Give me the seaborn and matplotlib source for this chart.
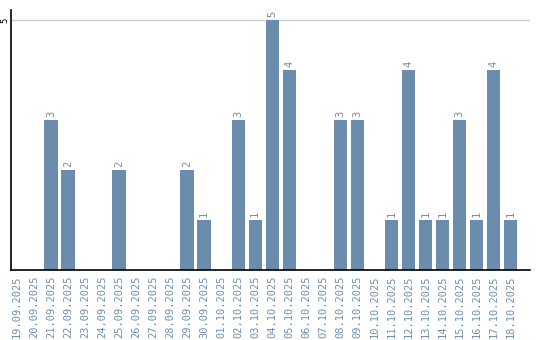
import matplotlib
matplotlib.use("Agg")
import matplotlib.pyplot as plt
import seaborn as sns
import pandas as pd

dates = ["19.09.2025", "20.09.2025", "21.09.2025", "22.09.2025", "23.09.2025",
         "24.09.2025", "25.09.2025", "26.09.2025", "27.09.2025", "28.09.2025",
         "29.09.2025", "30.09.2025", "01.10.2025", "02.10.2025", "03.10.2025",
         "04.10.2025", "05.10.2025", "06.10.2025", "07.10.2025", "08.10.2025",
         "09.10.2025", "10.10.2025", "11.10.2025", "12.10.2025", "13.10.2025",
         "14.10.2025", "15.10.2025", "16.10.2025", "17.10.2025", "18.10.2025"]
counts = [0, 0, 3, 2, 0, 0, 2, 0, 0, 0, 2, 1, 0, 3, 1, 5, 4, 0, 0, 3,
          3, 0, 1, 4, 1, 1, 3, 1, 4, 1]

df = pd.DataFrame({"date": dates, "count": counts})

sns.set_style("white")
plt.rcParams['font.family'] = ['DejaVu Sans Mono', 'DejaVu Sans']

fig = plt.figure(figsize=(5.4, 3.4), dpi=100)
ax = fig.add_axes([0.0204, 0.206, 0.961, 0.765])

bar_color = "#6b8cad"
label_color = "#6f8fb0"

sns.barplot(data=df, x="date", y="count", color=bar_color, width=0.78,
            saturation=1, ax=ax, edgecolor="none")

ax.set_xlim(-0.35, 30.15)
ax.set_ylim(0, 5.2)
ax.set_yticks([5])
ax.set_yticklabels(["5"], rotation=90, va="center", fontsize=6.5, color="black")
ax.yaxis.grid(True, color="#cccccc", linewidth=1)
ax.set_axisbelow(True)
ax.tick_params(axis="y", length=0, pad=1)
ax.tick_params(axis="x", length=0, pad=4)
ax.set_xticks(range(len(dates)))
ax.set_xticklabels(dates, rotation=90, fontsize=7.5, color=label_color)
ax.set_xlabel("")
ax.set_ylabel("")

for s in ["top", "right"]:
    ax.spines[s].set_visible(False)
for s in ["left", "bottom"]:
    ax.spines[s].set_color("black")
    ax.spines[s].set_linewidth(1.2)

for i, v in enumerate(counts):
    if v > 0:
        ax.text(i, v + 0.05, str(v), rotation=90, ha="center", va="bottom",
                fontsize=7.5, color="#7d8c9b")

fig.savefig("out.png", dpi=100)
